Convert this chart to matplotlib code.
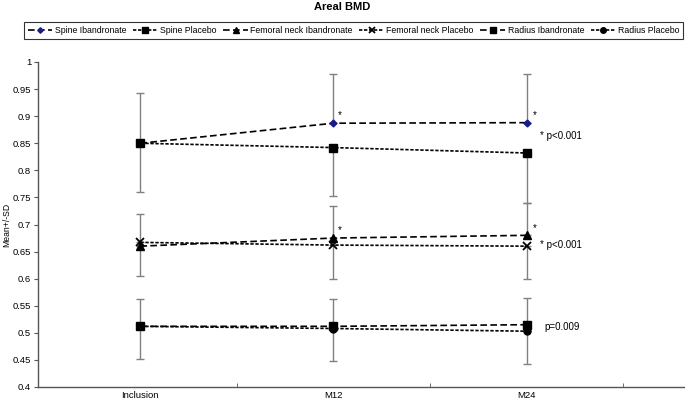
import matplotlib
matplotlib.use("Agg")
import matplotlib.pyplot as plt

plt.rcParams['font.family'] = ['Liberation Sans', 'DejaVu Sans']

categories = ["Inclusion", "M12", "M24"]
series_names = ["Spine Ibandronate", "Spine Placebo", "Femoral neck Ibandronate",
                "Femoral neck Placebo", "Radius Ibandronate", "Radius Placebo"]
spine_iban = [0.850, 0.887, 0.888]
spine_plac = [0.850, 0.842, 0.832]
fem_iban = [0.660, 0.675, 0.680]
fem_plac = [0.667, 0.662, 0.660]
rad_iban = [0.512, 0.512, 0.515]
rad_plac = [0.512, 0.508, 0.503]
spine_iban_sd = [0.093, 0.091, 0.090]
spine_plac_sd = [0.090, 0.090, 0.092]
fem_iban_sd = [0.060, 0.060, 0.060]
fem_plac_sd = [0.062, 0.062, 0.060]
rad_iban_sd = [0.050, 0.050, 0.050]
rad_plac_sd = [0.060, 0.060, 0.060]

values = [spine_iban, spine_plac, fem_iban, fem_plac, rad_iban, rad_plac]
sds = [spine_iban_sd, spine_plac_sd, fem_iban_sd, fem_plac_sd, rad_iban_sd, rad_plac_sd]
# Ibandronate series show +SD, placebo series show -SD
upper_only = [True, False, True, False, True, False]

dash_iban = (0, (4, 2))
dash_plac = (0, (2, 1))
styles = [
    dict(ls=dash_iban, marker='D', ms=3.5, mfc='#1a1a8c', mec='#1a1a8c'),
    dict(ls=dash_plac, marker='s', ms=5.5, mfc='black', mec='black'),
    dict(ls=dash_iban, marker='^', ms=6, mfc='black', mec='black'),
    dict(ls=dash_plac, marker='x', ms=5.5, mfc='black', mec='black', mew=1.3),
    dict(ls=dash_iban, marker='s', ms=5.5, mfc='black', mec='black'),
    dict(ls=dash_plac, marker='o', ms=5, mfc='black', mec='black'),
]

fig = plt.figure(figsize=(6.85, 4.03), dpi=100)
ax = fig.add_axes([38/685, 16/403, 1 - 38/685, (387-62)/403])

x = list(range(len(categories)))
handles = []
for v, sd, up in zip(values, sds, upper_only):
    zeros = [0] * len(sd)
    yerr = [zeros, sd] if up else [sd, zeros]
    ax.errorbar(x, v, yerr=yerr, fmt='none', ecolor='#808080', elinewidth=1.0,
                capsize=3, capthick=1.0, zorder=1)
for name, v, st in zip(series_names, values, styles):
    h, = ax.plot(x, v, color='black', lw=1.2, label=name, zorder=3, **st)
    handles.append(h)

ax.set_ylim(0.4, 1.0)
ax.set_xlim(-0.53, 2.82)
yt = [round(0.4 + 0.05 * i, 2) for i in range(13)]
ax.set_yticks(yt)
ax.set_yticklabels([f"{t:g}" for t in yt], fontsize=6.8)
ax.set_xticks(x)
ax.set_xticklabels(categories, fontsize=6.8)
ax.set_xticks([0.5, 1.5, 2.5], minor=True)
ax.tick_params(axis='x', which='major', length=0, pad=3)
ax.tick_params(axis='x', which='minor', length=3, direction='in', color='#555555')
ax.tick_params(axis='y', length=3, direction='out', pad=2, color='#555555')
for s in ['top', 'right']:
    ax.spines[s].set_visible(False)
for s in ['left', 'bottom']:
    ax.spines[s].set_color('#555555')
    ax.spines[s].set_linewidth(1.0)
ax.set_ylabel("Mean+/-SD", fontsize=6.2, labelpad=1)

# annotations
ax.text(1.02, 0.892, "*", fontsize=7, ha='left', va='bottom')
ax.text(2.03, 0.893, "*", fontsize=7, ha='left', va='bottom')
ax.text(2.07, 0.863, "* p<0.001", fontsize=7, ha='left', va='center')
ax.text(1.02, 0.680, "*", fontsize=7, ha='left', va='bottom')
ax.text(2.03, 0.685, "*", fontsize=7, ha='left', va='bottom')
ax.text(2.07, 0.663, "* p<0.001", fontsize=7, ha='left', va='center')
ax.text(2.09, 0.510, "p=0.009", fontsize=7, ha='left', va='center')

fig.suptitle("Areal BMD", fontsize=8, fontweight='bold', y=0.995)
leg = fig.legend(handles=handles, loc='upper left', bbox_to_anchor=(24/685, 1 - 22/403),
                 ncol=6, fontsize=6.3, frameon=True, fancybox=False, edgecolor='black',
                 handlelength=2.8, handletextpad=0.3, columnspacing=0.75,
                 borderpad=0.45, borderaxespad=0, markerscale=0.8)
leg.get_frame().set_linewidth(0.8)

fig.savefig("out.png", dpi=100)
